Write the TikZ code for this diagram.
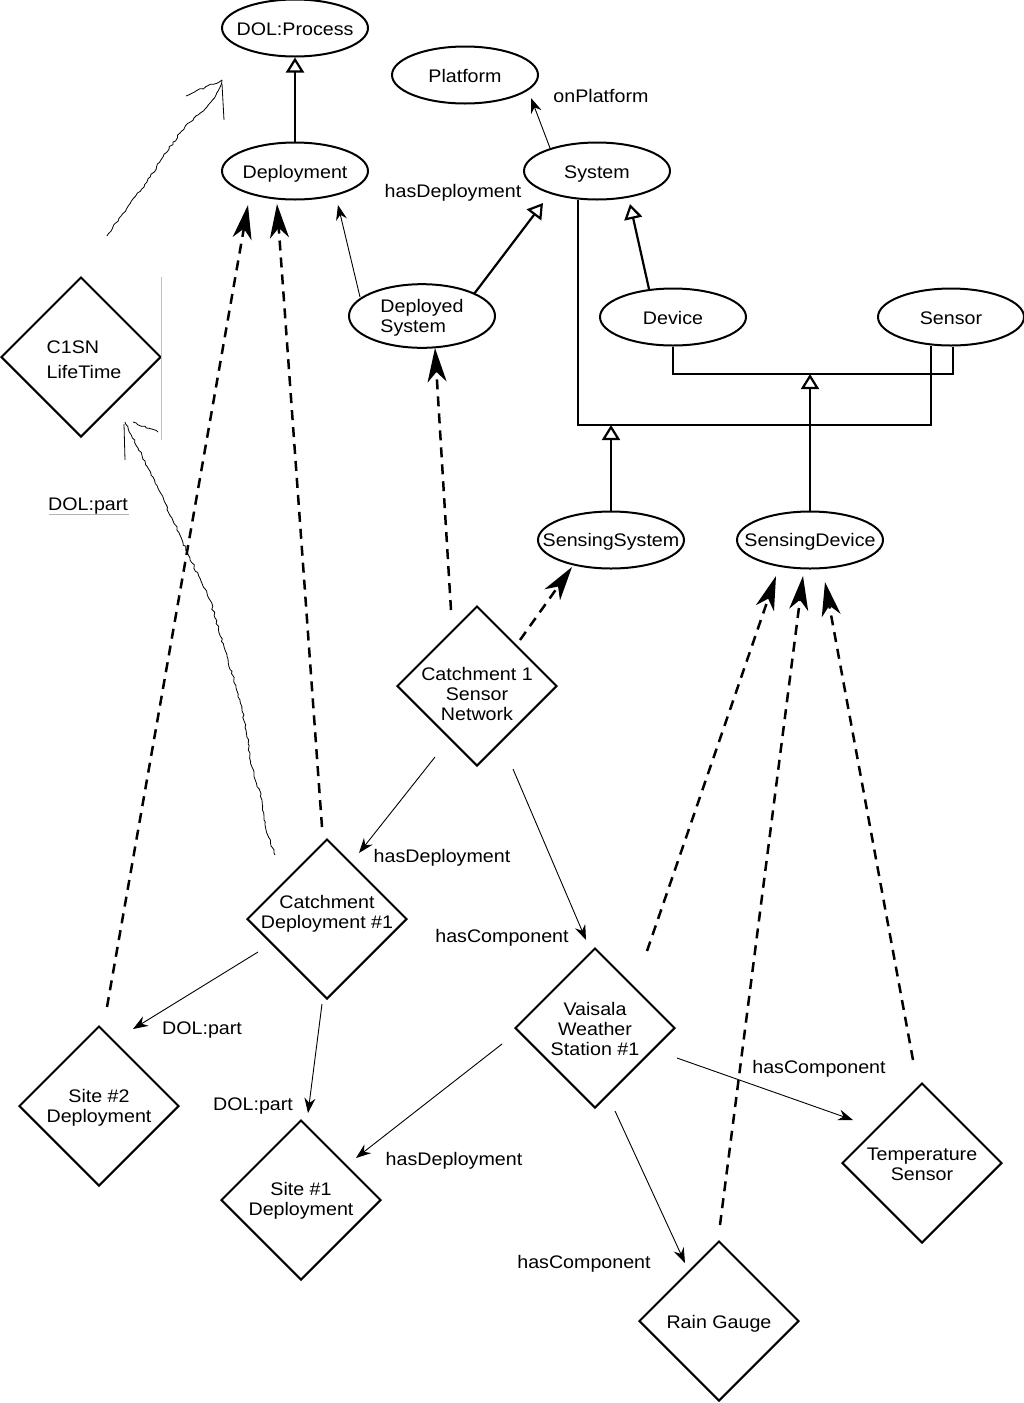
\documentclass[tikz,border=0pt]{standalone}
\usepackage{fontspec}
\setmainfont{Liberation Sans}[FakeStretch=1.08]
\usetikzlibrary{shapes.geometric,arrows.meta,calc,decorations.pathmorphing}
\newcommand{\mycent}[2][0pt]{\makebox[0pt]{\begin{tabular}{@{}c@{}}\rule{0pt}{\dimexpr14pt+#1*2\relax}#2\end{tabular}}}
\newcommand{\myleft}[2][0pt]{\makebox[0pt]{\begin{tabular}{@{}l@{}}\rule{0pt}{\dimexpr14pt+#1*2\relax}#2\end{tabular}}}
\begin{document}
\begin{tikzpicture}[x=1pt,y=-1pt,
  every node/.style={font=\fontsize{18.2}{20}\selectfont, inner sep=0pt},
  lbl/.style={yshift=-3pt},
  cls/.style={ellipse, draw, line width=2pt, minimum width=146pt, minimum height=57pt},
  inst/.style={diamond, draw, line width=2pt, minimum width=160pt, minimum height=160pt},
  gen/.style={line width=2.2pt, -{Triangle[open, length=15pt, width=18pt]}},
  thk/.style={line width=2.2pt},
  rel/.style={line width=0.9pt, -{Stealth[length=15pt, width=11pt, inset=5pt]}},
  typ/.style={line width=2.5pt, dash pattern=on 10pt off 7pt, -{Stealth[length=34pt, width=19pt, inset=10pt]}},
  hand/.style={line width=0.8pt, decorate, decoration={random steps, segment length=3pt, amplitude=1pt}},
]
\useasboundingbox (0,0) rectangle (1024,1403);
\pgfmathsetseed{7}
% classes
\node[cls] (proc) at (295,28) {\mycent[3pt]{DOL:Process}};
\node[cls] (depl) at (295,171) {\mycent[3pt]{Deployment}};
\node[cls] (plat) at (465,75) {\mycent[3pt]{Platform}};
\node[cls] (sys)  at (597,171) {\mycent[3pt]{System}};
\node[cls] (dsys) at (422,316) {\myleft[2.5pt]{Deployed\\System}};
\node[cls] (dev)  at (673,317) {\mycent[3pt]{Device}};
\node[cls] (sens) at (951,317) {\mycent[3pt]{Sensor}};
\node[cls] (ssys) at (611,540) {\mycent[2.5pt]{SensingSystem}};
\node[cls] (sdev) at (810,540) {\mycent[2.5pt]{SensingDevice}};
% instances
\node[inst] (lt)   at (81,357) {\myleft[4.5pt]{\hspace*{6pt}C1SN\\[5pt]\hspace*{6pt}LifeTime}};
\node[inst] (c1sn) at (477,686) {\mycent[10pt]{Catchment 1\\Sensor\\Network}};
\node[inst] (cd1)  at (327,919) {\makebox[0pt]{\begin{tabular}{@{}c@{}}Catchment\\Deployment \#1\rule[-16pt]{0pt}{0pt}\end{tabular}}};
\node[inst] (s2)   at (99,1106) {\mycent[2pt]{Site \#2\\Deployment}};
\node[inst] (s1)   at (301,1200) {\mycent[1pt]{Site \#1\\Deployment}};
\node[inst] (vws)  at (595,1028) {\mycent[3pt]{Vaisala\\Weather\\Station \#1}};
\node[inst] (ts)   at (922,1163) {\mycent[3.5pt]{Temperature\\Sensor}};
\node[inst] (rg)   at (719,1321) {\mycent[3pt]{Rain Gauge}};
% labels
\node[lbl] (l1) at (453,190) {hasDeployment};
\node[lbl] (l2) at (601,93) {onPlatform};
\node[lbl] (l3) at (442,855) {hasDeployment};
\node[lbl] (l4) at (502,935) {hasComponent};
\node[lbl] (l5) at (202,1027) {DOL:part};
\node[lbl] (l6) at (253,1103) {DOL:part};
\node[lbl] (l7) at (454,1158) {hasDeployment};
\node[lbl] (l8) at (819,1066) {hasComponent};
\node[lbl] (l9) at (584,1261) {hasComponent};
\node[lbl] (l10) at (88,503) {DOL:part};
% generalisation
\draw[gen] (depl.north) -- (proc.south);
\draw[gen] ($(dsys)+(52,-22)$) -- ($(sys)+(-54,32)$);
\draw[gen] ($(dev)+(-24,-28)$) -- ($(sys)+(33,33)$);
\coordinate (j1) at (611,425);
\coordinate (j2) at (810,374);
\coordinate (sysL) at ($(sys.south)+(-19,-1)$);
\coordinate (sensL) at ($(sens.south)+(-20,-1)$);
\coordinate (sensR) at ($(sens.south)+(2,0)$);
\coordinate (devB) at (dev.south);
\draw[gen] (ssys.north) -- (j1);
\draw[thk] (sysL) -- (sysL |- j1) -- (sensL |- j1) -- (sensL);
\draw[gen] (sdev.north) -- (j2);
\draw[thk] (devB) -- (devB |- j2) -- (sensR |- j2) -- (sensR);
% relations
\draw[rel] ($(dsys)+(-62,-19)$) -- ($(depl)+(43,34)$);
\draw[rel] ($(sys)+(-47,-23)$) -- ($(plat)+(66,23)$);
\draw[rel] ($(c1sn)+(-42,71)$) -- ($(cd1)+(32,-66)$);
\draw[rel] ($(c1sn)+(36,83)$) -- ($(vws)+(-9,-88)$);
\draw[rel] ($(cd1)+(-69,33)$) -- ($(s2)+(34,-77)$);
\draw[rel] ($(cd1)+(-5,85)$) -- ($(s1)+(7,-87)$);
\draw[rel] ($(vws)+(-93,16)$) -- ($(s1)+(55,-42)$);
\draw[rel] ($(vws)+(82,30)$) -- ($(ts)+(-69,-43)$);
\draw[rel] ($(vws)+(20,83)$) -- ($(rg)+(-34,-58)$);
% typing
\draw[typ] ($(c1sn)+(-26,-76)$) -- ($(dsys)+(13,32)$);
\draw[typ] ($(c1sn)+(43,-46)$) -- ($(ssys)+(-39,27)$);
\draw[typ] ($(cd1)+(-5,-92)$) -- ($(depl)+(-18,33)$);
\draw[typ] ($(s2)+(8,-99)$) -- ($(depl)+(-47,34)$);
\draw[typ] ($(vws)+(52,-77)$) -- ($(sdev)+(-34,36)$);
\draw[typ] ($(rg)+(1,-96)$) -- ($(sdev)+(-7,36)$);
\draw[typ] ($(ts)+(-9,-103)$) -- ($(sdev)+(15,42)$);
% hand drawn marks
\draw[hand] (107,236) -- (127,208) -- (147,182) -- (163,157) -- (180,133) -- (194,118) -- (207,107) -- (216,95) -- (222,80);
\draw[hand] (222,80) -- (186,96);
\draw[line width=0.8pt] (222,84) -- (224,120);
\draw[hand] (275,855) -- (265,825) -- (262,800) -- (252,767) -- (246,730) -- (240,700) -- (225,650) -- (210,600) -- (190,558) -- (172,518) -- (153,477) -- (138,448) -- (125,422);
\draw[line width=0.8pt] (124,424) -- (125,460);
\draw[hand] (133,422) -- (158,432);
\draw[gray!50, line width=0.8pt] (161,277) -- (161,440);
\draw[gray!60, line width=0.8pt] (49,514) -- (129,514);
\end{tikzpicture}
\end{document}
